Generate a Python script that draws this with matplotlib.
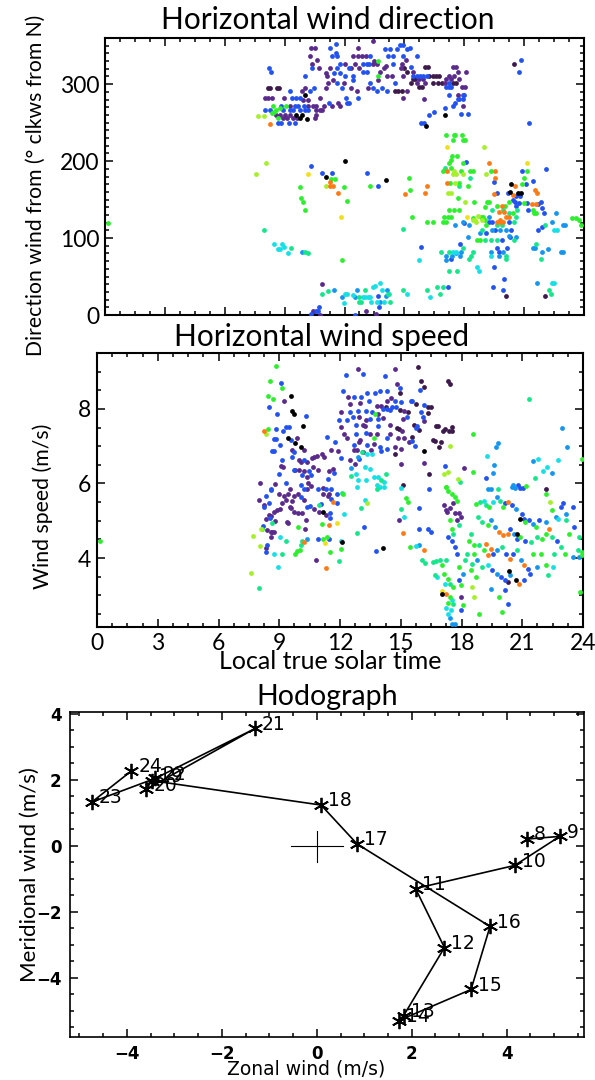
import numpy as np
import matplotlib
matplotlib.use("Agg")
import matplotlib.pyplot as plt
from matplotlib.ticker import MultipleLocator

plt.rcParams['font.family'] = ['Lato', 'DejaVu Sans']

# couleurs des classes de points (echelle arc-en-ciel IDL)
couleurs = {'k': '#000000', 'p': '#3c1a4c', 'v': '#5a2a8c', 'b': '#2252f0',
            'c': '#1496f0', 't': '#14e0e6', 's': '#14e68c', 'g': '#2cf02c',
            'y': '#a6f02a', 'Y': '#f0e01a', 'o': '#ff7a14'}

# ---------------- Direction du vent (heure, degres) ----------------
dir_k = [(10.0, 286), (9.55, 260), (9.85, 260), (9.75, 256), (10.12, 255), (12.02, 200), (17.02, 260),
         (16.08, 245), (11.08, 180), (14.08, 175), (20.33, 170), (20.28, 160), (20.68, 159), (20.83, 159)]
dir_p = [(15.0, 321), (15.12, 316), (8.18, 295), (8.28, 295), (8.62, 295), (8.72, 295), (14.53, 291),
         (14.7, 291), (14.88, 291), (16.05, 322), (16.17, 322), (16.25, 311), (16.45, 311), (16.58, 311),
         (16.75, 311), (15.42, 307), (15.55, 307), (15.33, 301), (16.42, 301), (16.68, 301), (16.88, 301),
         (17.42, 301), (17.58, 301), (15.72, 296), (15.88, 296), (20.5, 326), (20.08, 25), (22.05, 25)]
dir_v = [(10.3, 347), (10.53, 347), (12.67, 347), (13.45, 356), (15.08, 331), (10.28, 336), (12.45, 336),
         (12.67, 336), (12.88, 336), (13.08, 336), (13.47, 330), (10.63, 331), (10.37, 326), (10.7, 321),
         (11.28, 321), (12.05, 326), (12.33, 321), (12.55, 326), (12.75, 321), (13.42, 326), (13.62, 326),
         (13.98, 321), (14.08, 323), (14.83, 321), (14.88, 326), (11.05, 315), (11.12, 311), (13.8, 316),
         (14.12, 311), (14.38, 311), (14.95, 311), (11.42, 305), (11.18, 301), (11.95, 301), (13.67, 305),
         (9.85, 291), (10.02, 295), (11.08, 295), (12.35, 295), (12.62, 291), (13.18, 295), (15.12, 291),
         (8.02, 282), (8.17, 282), (8.37, 282), (8.95, 282), (9.92, 279), (10.18, 279), (10.78, 282),
         (11.68, 276), (14.92, 282), (9.25, 272), (10.15, 272), (10.42, 272), (10.58, 272), (10.95, 272),
         (11.38, 271), (11.75, 271), (10.58, 266), (10.75, 266), (10.88, 266), (8.58, 260), (8.75, 260),
         (9.02, 260), (9.28, 260), (10.52, 256), (10.58, 260), (8.92, 256), (9.12, 256), (9.42, 256),
         (9.62, 256), (17.45, 322), (17.58, 322), (17.67, 316), (18.08, 316), (15.45, 316), (17.22, 311),
         (17.5, 311), (15.75, 307), (15.95, 307), (17.08, 307), (17.33, 307), (17.75, 307), (15.62, 301),
         (16.05, 301), (17.02, 301), (17.88, 296), (18.02, 296), (17.67, 286), (15.98, 281), (17.92, 271),
         (10.85, 40), (10.42, 5), (10.78, 0), (13.08, 5), (13.58, 1)]
dir_b = [(11.28, 347), (11.55, 352), (11.55, 341), (14.03, 346), (14.28, 346), (14.62, 346), (14.78, 351),
         (14.95, 351), (15.12, 346), (11.38, 336), (11.62, 336), (13.28, 336), (14.2, 336), (14.42, 336),
         (14.92, 336), (10.37, 321), (11.62, 321), (11.75, 326), (12.22, 321), (12.92, 326), (13.12, 326),
         (13.25, 326), (14.45, 326), (8.22, 321), (8.3, 316), (10.03, 311), (11.45, 315), (11.75, 315),
         (12.05, 311), (12.45, 311), (12.92, 316), (13.12, 316), (11.62, 301), (12.45, 305), (13.28, 301),
         (14.53, 301), (9.28, 291), (10.25, 291), (10.45, 295), (11.88, 295), (13.45, 295), (13.62, 291),
         (13.87, 295), (14.12, 291), (9.35, 282), (9.58, 282), (9.78, 282), (11.22, 276), (12.08, 282),
         (12.12, 276), (12.22, 276), (12.68, 282), (8.8, 272), (9.52, 272), (9.67, 272), (9.95, 272),
         (9.25, 266), (8.25, 266), (8.02, 266), (8.92, 266), (9.42, 266), (9.75, 266), (10.0, 266),
         (10.18, 266), (9.5, 250), (8.67, 249), (8.83, 249), (9.22, 249), (10.3, 194), (15.3, 347),
         (15.62, 336), (15.33, 322), (15.45, 311), (15.62, 311), (15.78, 311), (15.95, 311), (16.12, 311),
         (17.22, 301), (17.08, 296), (17.25, 296), (17.35, 296), (17.25, 286), (17.92, 286), (18.0, 286),
         (17.67, 281), (17.75, 281), (17.92, 281), (17.52, 276), (17.42, 271), (17.05, 269), (16.5, 264),
         (16.25, 260), (17.83, 261), (18.17, 261), (16.0, 250), (15.85, 249), (21.25, 250), (20.83, 331),
         (20.75, 316), (18.08, 199), (22.08, 190), (10.88, 185), (11.38, 185), (13.12, 185), (13.68, 168),
         (13.68, 25), (13.75, 10), (10.7, 10), (10.55, 5), (10.65, 5), (10.3, 1), (12.55, 0), (20.88, 187),
         (19.5, 173), (21.08, 170), (21.45, 174), (20.18, 159), (19.62, 159), (20.58, 155), (20.78, 155),
         (20.45, 150), (20.55, 147), (20.72, 146), (20.58, 142), (21.12, 145), (21.72, 144), (21.83, 147),
         (21.88, 139), (21.17, 137), (22.0, 132), (18.0, 119), (19.25, 121), (19.38, 121), (20.25, 121),
         (19.55, 111), (20.33, 111), (21.72, 111), (21.88, 115), (19.08, 106), (20.28, 101), (19.88, 98),
         (17.78, 92), (15.85, 88), (19.62, 87), (19.75, 82), (20.12, 87), (17.32, 73), (19.5, 62),
         (20.0, 47), (17.17, 37), (19.42, 37), (19.92, 32)]
dir_c = [(9.88, 82), (11.45, 33), (12.62, 33), (14.12, 33), (11.88, 23), (12.55, 23), (14.08, 25),
         (13.78, 17), (22.58, 132), (19.22, 127), (17.92, 121), (17.55, 117), (18.22, 117), (22.38, 121),
         (22.95, 117), (23.05, 117), (19.38, 111), (19.78, 111), (20.08, 111), (18.18, 102), (18.78, 106),
         (20.22, 103), (20.58, 102), (17.83, 82), (19.33, 82), (19.92, 82), (21.42, 87), (21.52, 87),
         (21.92, 82), (22.22, 86), (22.85, 82), (22.95, 82), (17.08, 77), (17.38, 77), (17.58, 80),
         (17.78, 77), (19.72, 77), (17.08, 72), (21.67, 42)]
dir_t = [(8.48, 92), (8.65, 86), (8.75, 86), (8.88, 92), (8.98, 88), (9.15, 81), (13.45, 37), (13.55, 38),
         (13.78, 41), (13.88, 33), (15.12, 27), (12.05, 27), (12.15, 27), (12.45, 26), (12.92, 23),
         (13.05, 23), (13.18, 23), (13.28, 23), (14.25, 27), (11.97, 16), (13.35, 17), (13.62, 17),
         (13.98, 17), (22.5, 111), (22.67, 111), (17.42, 82), (17.58, 82), (19.33, 77), (15.72, 72),
         (18.62, 62), (18.72, 57), (22.38, 42), (22.5, 42), (16.28, 23)]
dir_s = [(7.98, 111), (14.95, 112), (9.32, 87), (10.03, 82), (10.17, 81), (10.88, 27), (11.15, 31),
         (13.05, 33), (14.95, 33), (12.75, 23), (14.18, 27), (12.72, 17), (12.82, 17), (14.28, 17),
         (17.05, 191), (18.28, 178), (17.75, 168), (19.38, 137), (19.95, 137), (20.62, 137), (20.25, 132),
         (20.58, 128), (20.5, 121), (19.62, 117), (19.88, 117), (22.05, 117), (18.88, 111), (19.02, 97),
         (19.32, 97), (19.62, 97), (20.5, 97), (16.83, 82), (17.25, 82), (17.92, 87), (18.45, 82),
         (21.58, 92), (18.33, 77), (20.08, 77), (18.25, 73), (20.08, 73), (21.83, 73), (17.22, 57),
         (17.63, 57), (16.12, 32), (16.62, 37), (16.95, 37), (22.25, 33), (16.78, 27), (22.33, 27)]
dir_g = [(13.67, 330), (13.67, 311), (8.42, 272), (9.08, 272), (8.75, 269), (8.58, 266), (8.45, 264),
         (8.35, 262), (8.67, 256), (17.08, 234), (17.47, 234), (17.55, 234), (17.88, 234), (17.95, 228),
         (18.05, 228), (17.45, 227), (17.38, 207), (17.62, 207), (17.33, 201), (17.92, 197), (17.22, 197),
         (17.32, 191), (11.33, 177), (11.5, 177), (9.75, 167), (11.98, 167), (13.28, 168), (15.22, 178),
         (9.82, 152), (9.92, 147), (10.0, 137), (12.13, 148), (11.88, 72), (16.95, 187), (17.83, 187),
         (18.28, 187), (18.42, 187), (19.33, 187), (21.12, 187), (21.0, 178), (20.88, 170), (15.28, 163),
         (17.28, 172), (17.72, 172), (18.17, 168), (17.67, 152), (18.5, 147), (19.12, 147), (19.22, 147),
         (20.25, 147), (20.05, 142), (19.62, 142), (19.05, 141), (21.0, 145), (17.25, 137), (17.5, 137),
         (17.75, 137), (21.45, 137), (20.42, 133), (21.5, 132), (21.62, 132), (15.38, 128), (17.0, 128),
         (17.17, 128), (17.33, 128), (18.42, 126), (18.83, 128), (18.95, 128), (16.12, 121), (16.42, 121),
         (16.92, 121), (17.08, 121), (19.05, 124), (19.08, 117), (23.38, 126), (23.58, 126), (23.75, 124),
         (23.85, 117), (18.78, 97), (18.62, 98), (0.13, 119)]
dir_y = [(7.65, 258), (7.98, 258), (8.08, 198), (7.58, 183), (11.08, 168), (19.0, 218), (17.42, 183),
         (17.58, 183), (17.92, 183), (17.5, 187), (19.08, 183), (17.55, 172), (17.17, 158), (17.33, 158),
         (18.05, 147), (18.52, 124), (18.67, 129), (18.42, 123), (18.58, 121), (18.88, 124)]
dir_Y = [(10.17, 183), (11.83, 128), (17.13, 218), (21.12, 198), (18.12, 128)]
dir_o = [(8.25, 248), (19.22, 198), (11.25, 173), (11.25, 168), (11.42, 168), (15.05, 157), (11.67, 158),
         (17.12, 187), (19.55, 187), (19.55, 178), (20.55, 168), (21.55, 163), (21.65, 159), (19.48, 157),
         (20.42, 156), (16.12, 168), (16.05, 158), (17.13, 172), (19.88, 142), (21.38, 144), (21.58, 144),
         (19.75, 134), (20.0, 134), (19.78, 124), (20.08, 128), (20.25, 128), (19.65, 121), (19.78, 121),
         (19.95, 121)]

# ---------------- Vitesse du vent (heure, m/s) ----------------
vit_k = [(9.56, 8.35), (9.64, 7.95), (9.72, 7.86), (10.15, 7.55), (9.42, 7.23), (9.80, 7.08), (10.05, 6.98),
         (16.16, 6.86), (11.14, 5.24), (12.10, 4.44), (14.14, 4.27), (17.04, 3.04), (20.69, 3.42),
         (20.88, 5.04), (20.73, 4.65), (20.36, 3.65)]
vit_p = [(14.97, 8.43), (14.80, 7.49), (14.93, 7.47), (14.70, 6.78), (15.13, 5.95), (14.26, 8.06),
         (14.97, 7.97), (15.36, 7.91), (15.83, 9.13), (16.0, 8.75), (16.16, 8.58), (17.35, 8.75),
         (17.45, 8.68), (15.75, 8.13), (16.33, 8.04), (16.49, 8.04), (16.33, 7.88), (15.63, 7.58),
         (15.91, 7.44), (16.74, 7.53), (16.85, 7.55), (17.07, 7.42), (17.18, 7.47), (17.40, 7.40),
         (17.51, 7.51), (17.55, 7.40), (15.55, 7.26), (16.57, 7.17), (16.69, 7.13), (16.99, 7.10),
         (16.90, 6.98), (16.41, 6.25), (22.18, 5.85), (20.32, 3.36)]
vit_v = [(9.23, 8.22), (9.89, 7.23), (9.64, 6.90), (10.22, 6.89), (11.57, 6.89), (11.90, 6.87), (9.97, 6.62),
         (10.05, 6.58), (10.38, 6.58), (10.63, 6.67), (10.74, 6.71), (10.88, 6.75), (11.12, 6.78),
         (11.21, 6.71), (9.09, 6.46), (9.19, 6.43), (9.80, 6.37), (9.97, 6.35), (10.22, 6.34), (10.68, 6.43),
         (10.91, 6.35), (10.35, 6.18), (11.47, 6.34), (11.67, 6.39), (8.07, 6.00), (8.81, 5.98),
         (10.41, 6.00), (10.58, 5.93), (11.17, 5.89), (9.52, 5.85), (10.35, 5.84), (12.49, 6.64),
         (12.72, 6.51), (12.89, 9.06), (14.74, 9.07), (14.80, 8.67), (12.39, 8.31), (12.49, 8.13),
         (12.99, 8.15), (14.51, 8.29), (13.81, 8.09), (14.01, 8.09), (14.34, 8.20), (12.06, 7.91),
         (13.88, 7.86), (15.17, 7.95), (12.94, 7.78), (13.27, 7.69), (14.14, 7.75), (15.10, 7.73),
         (12.03, 7.51), (13.15, 7.58), (13.22, 7.53), (14.47, 7.58), (15.07, 7.42), (12.20, 7.33),
         (12.36, 7.23), (12.99, 7.17), (13.48, 7.33), (13.85, 7.33), (14.47, 7.33), (14.84, 7.23),
         (15.17, 7.23), (15.41, 7.11), (12.94, 7.11), (13.68, 7.07), (14.70, 6.98), (15.00, 6.92),
         (12.69, 6.90), (12.86, 6.90), (13.15, 6.84), (13.55, 6.89), (15.00, 6.53), (16.16, 7.67),
         (16.16, 6.56), (18.14, 6.42), (8.98, 5.71), (9.23, 5.66), (9.42, 5.71), (9.72, 5.66), (9.92, 5.71),
         (10.22, 5.57), (7.99, 5.55), (9.14, 5.47), (9.31, 5.57), (9.64, 5.54), (9.52, 5.36), (8.24, 5.42),
         (8.73, 5.23), (8.90, 5.29), (9.03, 5.32), (8.48, 5.15), (8.60, 5.13), (8.37, 5.04), (8.80, 5.00),
         (9.36, 4.98), (9.56, 5.33), (9.72, 5.24), (9.92, 5.20), (10.13, 5.22), (10.74, 5.31), (10.97, 5.24),
         (11.30, 5.15), (11.40, 5.66), (11.14, 5.73), (11.47, 5.73), (10.31, 5.02), (8.40, 4.75),
         (8.57, 4.71), (8.66, 4.70), (8.73, 4.71), (9.42, 4.95), (10.25, 4.77), (8.57, 4.56), (8.33, 4.27),
         (10.81, 3.94), (14.92, 5.02), (17.13, 5.41), (17.23, 5.29), (17.28, 5.23), (17.42, 5.35),
         (17.60, 5.47), (17.70, 5.21), (17.88, 5.21), (17.98, 5.10), (17.79, 5.01), (17.98, 2.96)]
vit_b = [(9.09, 8.70), (8.50, 8.06), (8.90, 7.86), (10.31, 7.80), (9.32, 7.51), (9.49, 7.51), (8.86, 7.47),
         (9.19, 7.42), (8.73, 7.19), (8.86, 7.19), (9.56, 7.17), (9.06, 7.02), (8.66, 6.87), (8.76, 6.87),
         (9.72, 6.84), (11.34, 7.26), (11.77, 7.11), (9.14, 6.64), (9.65, 6.71), (10.22, 6.62), (9.72, 6.35),
         (10.46, 6.34), (8.98, 6.25), (10.13, 6.22), (10.55, 6.22), (11.40, 6.13), (11.70, 6.27),
         (9.31, 6.00), (10.05, 5.95), (8.60, 5.84), (10.22, 5.85), (10.91, 5.84), (11.29, 5.84),
         (11.54, 5.84), (12.06, 6.69), (12.95, 6.66), (12.16, 8.49), (12.28, 8.91), (13.15, 8.93),
         (14.24, 8.87), (14.97, 8.56), (12.69, 8.31), (13.02, 8.31), (13.32, 8.42), (13.43, 8.20),
         (13.75, 8.42), (13.98, 8.47), (14.31, 8.47), (14.70, 8.20), (15.00, 8.18), (15.50, 8.22),
         (14.59, 8.06), (14.75, 8.06), (12.49, 7.91), (12.90, 7.94), (13.27, 7.95), (13.56, 7.91),
         (14.14, 8.00), (14.31, 8.00), (14.47, 7.97), (11.96, 7.69), (12.33, 7.69), (12.66, 7.78),
         (13.48, 7.73), (13.88, 7.73), (15.33, 7.78), (12.77, 7.58), (13.88, 7.53), (12.77, 7.33),
         (13.28, 7.35), (14.34, 7.23), (12.69, 7.02), (13.35, 7.02), (13.98, 6.98), (14.34, 6.93),
         (14.01, 6.87), (15.93, 8.52), (15.55, 8.22), (16.16, 8.11), (16.0, 7.91), (16.08, 7.79),
         (15.80, 7.55), (15.75, 7.49), (15.58, 7.14), (15.70, 7.01), (17.18, 6.46), (19.21, 6.15),
         (16.41, 5.86), (20.91, 5.89), (21.03, 5.89), (8.57, 5.82), (10.08, 5.63), (8.33, 5.66), (8.50, 5.48),
         (8.27, 5.36), (8.53, 5.07), (10.38, 5.38), (10.50, 5.39), (11.07, 5.45), (11.50, 5.22),
         (11.50, 5.07), (11.83, 5.73), (11.57, 5.59), (11.83, 5.48), (8.20, 4.86), (10.91, 4.52),
         (11.47, 4.51), (8.40, 4.35), (8.33, 4.15), (13.19, 4.84), (13.76, 4.20), (15.92, 4.77),
         (15.91, 5.33), (16.35, 4.77), (16.48, 4.70), (17.32, 4.56), (17.51, 4.47), (17.70, 4.29),
         (17.79, 4.12), (17.88, 3.40), (17.98, 2.60), (20.13, 5.47), (20.51, 5.41), (20.97, 5.19),
         (21.07, 5.05), (21.35, 5.01), (21.82, 5.01), (20.79, 5.96), (20.41, 4.79), (20.73, 4.52),
         (21.16, 4.47), (19.57, 4.12), (20.22, 4.12), (20.54, 4.12), (21.29, 3.71), (21.40, 3.58),
         (19.53, 3.67), (19.94, 3.49), (20.17, 3.40), (21.07, 3.40), (20.13, 3.13), (20.28, 2.78),
         (22.90, 5.37), (23.03, 5.47), (23.54, 4.83), (22.71, 4.47), (23.50, 5.37)]
vit_c = [(12.90, 6.71), (12.53, 6.42), (19.59, 6.50), (19.54, 6.27), (19.71, 6.98), (19.79, 7.08),
         (22.96, 7.49), (23.19, 6.97), (21.54, 6.60), (22.46, 6.29), (19.30, 5.85), (19.46, 5.84),
         (20.53, 5.95), (20.65, 5.89), (10.35, 4.51), (15.92, 4.34), (17.42, 2.38), (17.51, 2.22),
         (17.70, 2.22), (18.07, 3.58), (19.76, 5.65), (20.69, 5.32), (21.54, 4.92), (20.51, 5.90),
         (19.48, 5.03), (19.66, 4.83), (20.60, 4.65), (19.76, 4.21), (20.92, 3.94), (18.78, 3.94),
         (19.76, 3.58), (20.41, 3.54), (19.48, 3.18), (22.66, 5.10), (22.19, 4.96), (23.50, 4.03),
         (23.78, 4.03), (23.16, 5.17), (21.72, 3.76)]
vit_t = [(13.35, 6.78), (13.60, 6.78), (13.22, 6.44), (13.48, 6.40), (12.77, 6.25), (12.89, 6.10),
         (13.27, 6.10), (13.68, 6.18), (13.88, 6.18), (13.81, 5.95), (13.98, 5.91), (14.18, 5.91),
         (12.86, 5.91), (15.00, 5.89), (14.18, 6.04), (19.26, 6.73), (21.80, 6.66), (22.79, 6.64),
         (22.03, 6.34), (22.22, 6.43), (12.20, 5.18), (13.25, 5.55), (9.03, 4.56), (12.03, 4.47),
         (8.76, 4.11), (8.93, 3.75), (15.17, 5.09), (15.76, 4.31), (16.80, 3.49), (17.17, 3.31),
         (17.55, 2.87), (17.23, 2.67), (17.47, 2.60), (17.32, 2.51), (19.10, 5.54), (19.57, 5.50),
         (19.29, 3.80), (22.53, 3.76), (22.75, 5.05)]
vit_s = [(13.10, 6.84), (12.53, 6.19), (14.26, 6.25), (13.85, 5.85), (14.01, 6.09), (17.94, 6.04),
         (21.31, 8.26), (21.64, 6.15), (19.79, 5.84), (10.94, 5.43), (12.11, 5.75), (13.02, 5.33),
         (8.66, 4.95), (9.32, 4.47), (10.12, 4.45), (9.16, 4.11), (10.08, 4.35), (11.93, 3.91), (8.00, 3.20),
         (12.86, 4.68), (15.00, 5.31), (16.05, 3.94), (16.20, 3.87), (16.57, 3.89), (16.72, 3.92),
         (16.95, 3.94), (16.67, 3.54), (17.60, 4.65), (17.88, 4.88), (17.23, 3.94), (17.42, 3.31),
         (17.60, 2.76), (18.16, 3.94), (18.26, 4.12), (18.45, 4.65), (18.54, 3.85), (18.91, 5.50),
         (19.19, 5.41), (19.91, 5.54), (18.82, 5.10), (19.01, 4.96), (21.44, 4.43), (21.72, 4.56),
         (18.86, 4.34), (19.98, 4.29), (20.73, 4.21), (19.01, 3.76), (23.16, 5.01), (23.78, 4.56),
         (22.47, 4.56), (22.90, 4.29), (22.57, 4.12), (22.28, 3.54), (23.73, 4.21)]
vit_g = [(8.86, 9.14), (8.53, 8.75), (9.13, 8.55), (8.43, 8.35), (8.70, 8.27), (8.43, 7.46), (13.75, 7.86),
         (13.68, 7.23), (18.55, 7.32), (18.55, 6.30), (17.23, 5.91), (21.19, 5.93), (23.95, 6.65),
         (12.16, 5.71), (11.09, 4.91), (8.17, 4.79), (9.92, 4.83), (11.17, 4.51), (11.37, 4.56),
         (12.03, 4.24), (11.50, 4.17), (9.79, 4.10), (9.89, 4.20), (10.02, 4.22), (15.26, 5.60),
         (15.36, 5.50), (15.46, 4.29), (17.23, 5.90), (17.32, 5.81), (17.51, 5.72), (17.70, 5.65),
         (17.79, 5.54), (17.42, 5.01), (17.51, 4.79), (17.04, 3.80), (17.13, 3.58), (17.32, 3.45),
         (17.60, 3.22), (17.42, 2.96), (17.32, 2.79), (17.98, 3.27), (17.88, 3.76), (18.07, 2.73),
         (18.35, 4.47), (18.60, 4.34), (18.63, 4.12), (18.45, 3.67), (18.73, 3.49), (18.86, 2.51),
         (18.73, 5.46), (19.38, 5.37), (20.04, 5.37), (21.16, 4.96), (21.67, 4.83), (19.29, 4.88),
         (20.88, 4.56), (21.97, 4.52), (22.19, 4.65), (19.10, 4.21), (21.54, 4.12), (19.85, 2.96),
         (19.98, 2.55), (22.19, 5.72), (22.47, 5.28), (23.31, 4.65), (23.09, 4.12), (22.15, 3.80),
         (23.84, 3.09), (23.97, 4.07), (23.95, 4.15), (21.91, 4.12), (0.13, 4.47)]
vit_y = [(8.37, 7.33), (17.41, 7.00), (17.32, 6.31), (17.15, 6.25), (17.81, 6.11), (13.35, 5.47), (8.10, 4.77),
         (7.71, 4.59), (8.04, 4.31), (7.61, 3.60), (18.54, 3.22), (18.63, 2.96), (22.38, 5.50)]
vit_Y = [(11.87, 4.95), (11.27, 4.40), (17.04, 3.12)]
vit_o = [(8.27, 7.42), (11.67, 5.51), (11.45, 4.88), (10.22, 4.42), (11.29, 3.73), (15.13, 4.68),
         (16.16, 4.21), (17.23, 3.04), (20.32, 5.50), (19.85, 4.70), (20.04, 4.61), (20.28, 4.65),
         (19.19, 4.38), (19.48, 4.25), (20.41, 3.98), (21.10, 3.80), (20.84, 3.31), (19.29, 4.07),
         (22.34, 4.79)]

# ---------------- Hodographe ----------------
heures = [8, 9, 10, 11, 12, 13, 14, 15, 16, 17, 18, 19, 20, 21, 22, 23, 24]
vent_zonal = [4.43, 5.12, 4.17, 2.08, 2.69, 1.83, 1.73, 3.25, 3.65, 0.85, 0.09, -3.48, -3.59,
              -1.30, -3.40, -4.74, -3.91]
vent_merid = [0.21, 0.29, -0.59, -1.29, -3.08, -5.14, -5.29, -4.35, -2.44, 0.06, 1.24, 1.98, 1.72,
              3.56, 2.05, 1.33, 2.27]

dir_series = [(dir_p, 'p'), (dir_v, 'v'), (dir_b, 'b'), (dir_c, 'c'), (dir_t, 't'), (dir_s, 's'),
              (dir_g, 'g'), (dir_y, 'y'), (dir_Y, 'Y'), (dir_o, 'o'), (dir_k, 'k')]
vit_series = [(vit_p, 'p'), (vit_v, 'v'), (vit_b, 'b'), (vit_c, 'c'), (vit_t, 't'), (vit_s, 's'),
              (vit_g, 'g'), (vit_y, 'y'), (vit_Y, 'Y'), (vit_o, 'o'), (vit_k, 'k')]

W, H = 595, 1080
fig = plt.figure(figsize=(W / 100, H / 100), dpi=100)

def cadre(ax, taille, epais=1.5):
    for sp in ax.spines.values():
        sp.set_linewidth(epais)
    ax.tick_params(which='both', direction='in', top=True, right=True, width=1.1, labelsize=taille)
    ax.tick_params(which='major', length=6)
    ax.tick_params(which='minor', length=3)

# 1. Direction
ax1 = fig.add_axes([105 / W, 1 - 315 / H, 479 / W, 277 / H])
for pts, c in dir_series:
    a = np.array(pts, dtype=float)
    ax1.scatter(a[:, 0], a[:, 1], s=12, color=couleurs[c], linewidths=0, zorder=3)
ax1.set_xlim(0, 24)
ax1.set_ylim(0, 360)
ax1.set_xticks(range(0, 25, 3))
ax1.xaxis.set_minor_locator(MultipleLocator(0.75))
ax1.set_yticks([0, 100, 200, 300])
ax1.yaxis.set_minor_locator(MultipleLocator(10))
cadre(ax1, 16.5)
ax1.tick_params(labelbottom=False, pad=4)
ax1.set_ylabel("Direction wind from (° clkws from N)", fontsize=15.2)
ax1.yaxis.set_label_coords(-0.123, 0.467)
fig.text(328 / W, 1 - 20 / H, "Horizontal wind direction", fontsize=21.5, ha='center', va='center')

# 2. Vitesse
ax2 = fig.add_axes([97 / W, 1 - 627 / H, 486 / W, 274 / H])
for pts, c in vit_series:
    a = np.array(pts, dtype=float)
    ax2.scatter(a[:, 0], a[:, 1], s=12, color=couleurs[c], linewidths=0, zorder=3)
ax2.set_xlim(0, 24)
ax2.set_ylim(2.15, 9.5)
ax2.set_xticks(range(0, 25, 3))
ax2.xaxis.set_minor_locator(MultipleLocator(0.75))
ax2.set_yticks([4, 6, 8])
ax2.yaxis.set_minor_locator(MultipleLocator(0.5))
cadre(ax2, 16.5)
ax2.tick_params(pad=4)
ax2.set_ylabel("Wind speed (m/s)", fontsize=15.3)
ax2.yaxis.set_label_coords(-0.09, 0.44)
ax2.set_xlabel("Local true solar time", fontsize=18)
ax2.xaxis.set_label_coords(0.48, -0.085)
fig.text(322 / W, 1 - 337 / H, "Horizontal wind speed", fontsize=21.5, ha='center', va='center')

# 3. Hodographe
ax3 = fig.add_axes([70 / W, 1 - 1037 / H, 514 / W, 325 / H])
ax3.plot(vent_zonal, vent_merid, color='black', lw=1.2, zorder=2)
ax3.plot(vent_zonal, vent_merid, ls='none', marker=(6, 2, 0), ms=11, mew=1.3, color='black', zorder=3)
for h, u, v in zip(heures, vent_zonal, vent_merid):
    ax3.annotate(str(h), (u, v), xytext=(5, 3), textcoords='offset points', fontsize=13.5,
                 family='DejaVu Sans', ha='left', va='center')
ax3.plot([-0.55, 0.55], [0, 0], color='black', lw=0.8)
ax3.plot([0, 0], [-0.5, 0.46], color='black', lw=0.8)
ax3.set_xlim(-5.2, 5.63)
ax3.set_ylim(-5.79, 4.06)
ax3.set_xticks([-4, -2, 0, 2, 4])
ax3.set_yticks([-4, -2, 0, 2, 4])
ax3.xaxis.set_minor_locator(MultipleLocator(0.5))
ax3.yaxis.set_minor_locator(MultipleLocator(0.5))
cadre(ax3, 12, epais=1.2)
ax3.tick_params(pad=6)
for lab in ax3.get_xticklabels() + ax3.get_yticklabels():
    lab.set_family('DejaVu Sans')
    lab.set_fontweight('bold')
ax3.set_ylabel("Meridional wind (m/s)", fontsize=16)
ax3.yaxis.set_label_coords(-0.058, 0.5)
ax3.set_xlabel("Zonal wind (m/s)", fontsize=13.5, family='DejaVu Sans')
ax3.xaxis.set_label_coords(0.46, -0.07)
fig.text(327 / W, 1 - 697 / H, "Hodograph", fontsize=20.5, ha='center', va='center')

fig.savefig("out.png", dpi=100)
